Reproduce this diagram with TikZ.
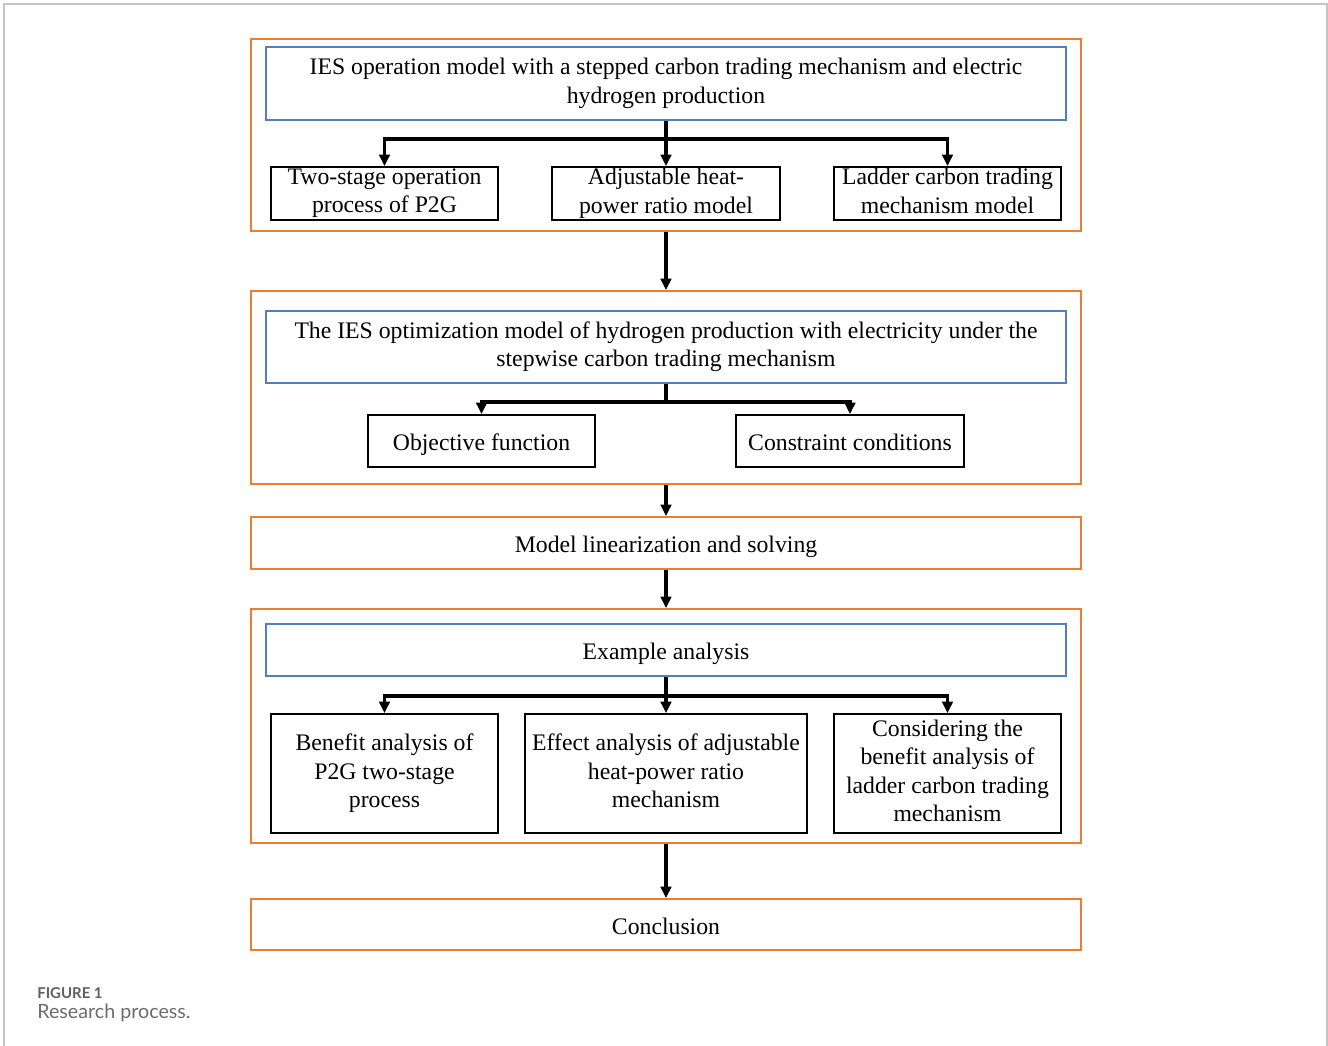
\documentclass[tikz,border=0pt]{standalone}
\usepackage{fontspec}
\setmainfont{Liberation Serif}
\newfontfamily\capfont{Lato}
\usepackage{xcolor}
\usepackage{tikz}
\usetikzlibrary{arrows.meta,positioning,calc}
\definecolor{Frame}{HTML}{C4C4C4}
\definecolor{Group}{HTML}{ED7D31}
\definecolor{Head}{HTML}{4F81BD}
\definecolor{CapGray}{HTML}{6B6B6B}
\newcommand\topstrut{\rule{0pt}{14pt}}
\newcommand\botstrut{\rule[-3.2pt]{0pt}{3.2pt}}

\begin{document}
\begin{tikzpicture}[x=0.02cm,y=-0.02cm,
  txt/.style={font=\fontsize{13.5}{16.2}\selectfont,align=center,inner sep=0pt,
    execute at begin node=\topstrut,execute at end node=\botstrut},
  group/.style={draw=Group,line width=1.1pt,minimum width=16.6cm},
  headbox/.style={txt,draw=Head,line width=1.1pt,minimum width=16cm},
  item/.style={txt,draw=black,line width=1.1pt,minimum width=4.54cm},
  arr/.style={line width=1.8pt,-{Triangle[length=6.5pt,width=6pt]}},
  link/.style={line width=1.8pt}]
  \useasboundingbox (0,0) rectangle (1328,1045);
  \draw[Frame,line width=0.9pt] (4,1050) -- (4,4) -- (1327,4) -- (1327,1050);
  % first stage
  \node[group,minimum height=3.84cm] (g1) at (666,135) {};
  \node[headbox,minimum height=1.46cm] (top1) at (666,83.5) {IES operation model with a stepped carbon trading mechanism and electric\\hydrogen production};
  \node[item,minimum height=1.06cm] (a1) at (384.5,193.5) {Two-stage operation\\process of P2G};
  \node[item,minimum height=1.06cm,minimum width=4.56cm] (b1) at (666,193.5) {Adjustable heat-\\power ratio model};
  \node[item,minimum height=1.06cm] (c1) at (947.5,193.5) {Ladder carbon trading\\mechanism model};
  \coordinate (br1) at (666,139);
  \draw[link] (top1.south) -- (br1);
  \draw[arr] (br1) -| (a1.north);
  \draw[arr] (br1) -| (c1.north);
  \draw[arr] (br1) -- (b1.north);
  % second stage
  \node[group,minimum height=3.86cm] (g2) at (666,387.5) {};
  \node[headbox,minimum height=1.44cm] (top2) at (666,347) {The IES optimization model of hydrogen production with electricity under the\\stepwise carbon trading mechanism};
  \node[item,minimum height=1.04cm] (obj) at (481.5,441) {Objective function};
  \node[item,minimum height=1.04cm,minimum width=4.56cm] (con) at (850,441) {Constraint conditions};
  \coordinate (br2) at (666,402);
  \draw[link] (top2.south) -- (br2);
  \draw[arr] (br2) -| (obj.north);
  \draw[arr] (br2) -| (con.north);
  \draw[arr] (g1.south) -- (g2.north);
  % solving
  \node[group,txt,minimum height=1.04cm] (lin) at (666,543) {Model linearization and solving};
  \draw[arr] (g2.south) -- (lin.north);
  % case study
  \node[group,minimum height=4.68cm] (g3) at (666,726) {};
  \node[headbox,minimum height=1.04cm] (top3) at (666,650) {Example analysis};
  \node[item,minimum height=2.38cm] (a3) at (384.5,773.5) {Benefit analysis of\\P2G two-stage\\process};
  \node[item,minimum height=2.38cm,minimum width=5.64cm] (b3) at (666,773.5) {Effect analysis of adjustable\\heat-power ratio\\mechanism};
  \node[item,minimum height=2.38cm] (c3) at (947.5,773.5) {Considering the\\benefit analysis of\\ladder carbon trading\\mechanism};
  \coordinate (br3) at (666,696);
  \draw[link] (top3.south) -- (br3);
  \draw[arr] (br3) -| (a3.north);
  \draw[arr] (br3) -| (c3.north);
  \draw[arr] (br3) -- (b3.north);
  \draw[arr] (lin.south) -- (g3.north);
  % end
  \node[group,txt,minimum height=1.02cm] (concl) at (666,924.5) {Conclusion};
  \draw[arr] (g3.south) -- (concl.north);
  \node[anchor=base west,inner sep=0pt,font=\capfont\bfseries\fontsize{8.5}{10}\selectfont,text=CapGray!90!black] (fig) at (37,998) {FIGURE 1};
  \node[anchor=base west,inner sep=0pt,font=\capfont\fontsize{11.2}{13}\selectfont,text=CapGray] (capt) at (37,1018) {Research process.};
\end{tikzpicture}
\end{document}
